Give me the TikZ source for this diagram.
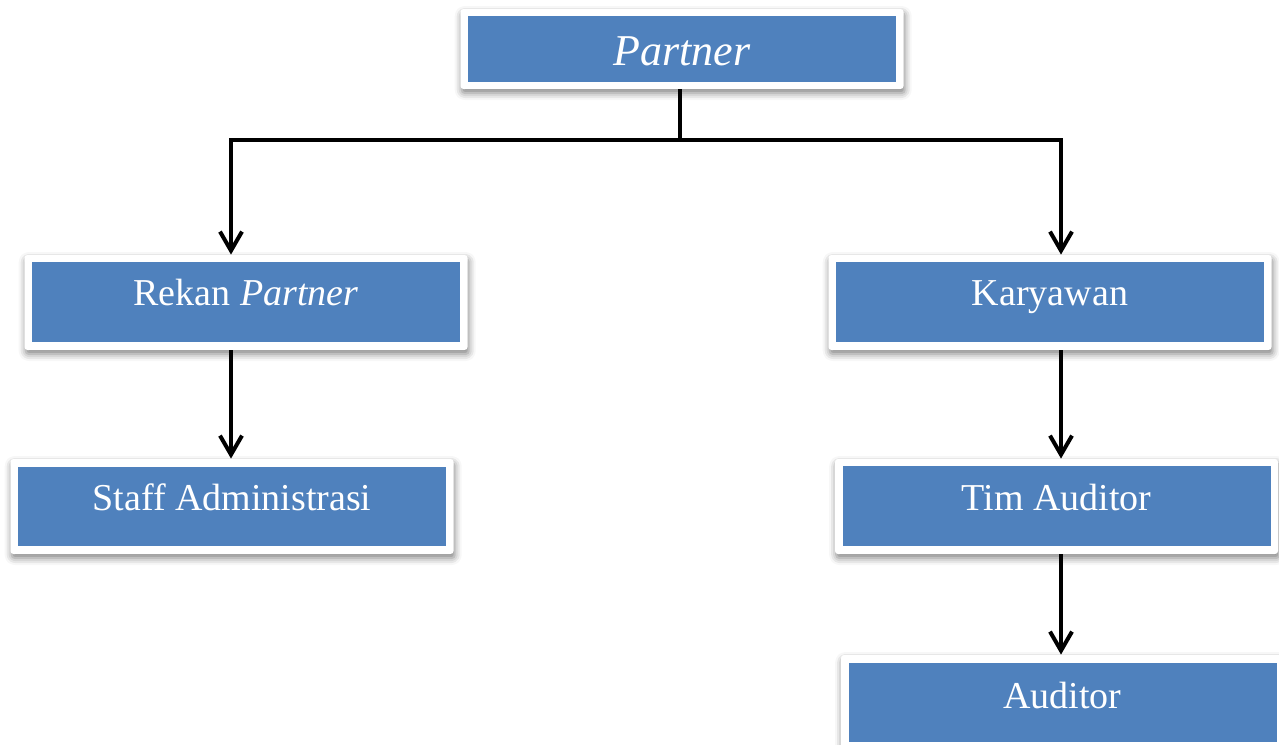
\documentclass[tikz,border=0pt]{standalone}
\usepackage{fontspec}
\setmainfont{Liberation Serif}
\usetikzlibrary{arrows.meta,shadows.blur}
\definecolor{boxblue}{RGB}{79,129,189}
\tikzset{
  frame/.style={fill=white, rounded corners=1.5pt, inner sep=0pt,
    minimum width=221.5pt, minimum height=47.5pt,
    blur shadow={shadow xshift=0.6pt, shadow yshift=-2pt, shadow blur radius=3.5pt, shadow opacity=50}},
  box/.style={fill=boxblue, text=white, inner sep=0pt, minimum width=214pt,
    text height=21.5pt, text depth=18.5pt, font=\fontsize{19}{22}\selectfont},
  line/.style={draw=black, line width=2pt},
  arr/.style={line, -{Straight Barb[length=9.5pt,width=11pt]}},
}
\begin{document}
\begin{tikzpicture}[x=0.5pt,y=-0.5pt]
\useasboundingbox (0,0) rectangle (1279,744);
% frames
\node[frame, minimum height=40pt] (p0) at (682,49) {};
\node[frame] (r0) at (246,302.5) {};
\node[frame] (s0) at (232,506.5) {};
\node[frame] (k0) at (1050,302.5) {};
\node[frame] (t0) at (1056.5,506.5) {};
\node[frame] (a0) at (1062.5,702.5) {};
% boxes
\node[box, text height=24.5pt, text depth=8.5pt, font=\fontsize{22}{26}\selectfont] (p) at (682,49) {\textit{Partner}};
\node[box] (r) at (246,302) {Rekan \textit{Partner}};
\node[box, text height=21.5pt, text depth=18pt] (s) at (232,506.5) {Staff Administrasi};
\node[box] (k) at (1050,302) {Karyawan};
\node[box, text height=22pt, text depth=18pt] (t) at (1056.5,506) {Tim Auditor};
\node[box, text height=22.5pt, text depth=17pt] (a) at (1062.5,702.5) {Auditor};
% connectors
\coordinate (j) at (680,140);
\coordinate (xl) at (231,0);
\coordinate (xr) at (1061,0);
\draw[line] (p0.south -| j) -- (j);
\draw[arr] (j) -| (xl |- r0.north);
\draw[arr] (j) -| (xr |- k0.north);
\draw[arr] (xl |- r0.south) -- (xl |- s0.north);
\draw[arr] (xr |- k0.south) -- (xr |- t0.north);
\draw[arr] (xr |- t0.south) -- (xr |- a0.north);
\end{tikzpicture}
\end{document}
